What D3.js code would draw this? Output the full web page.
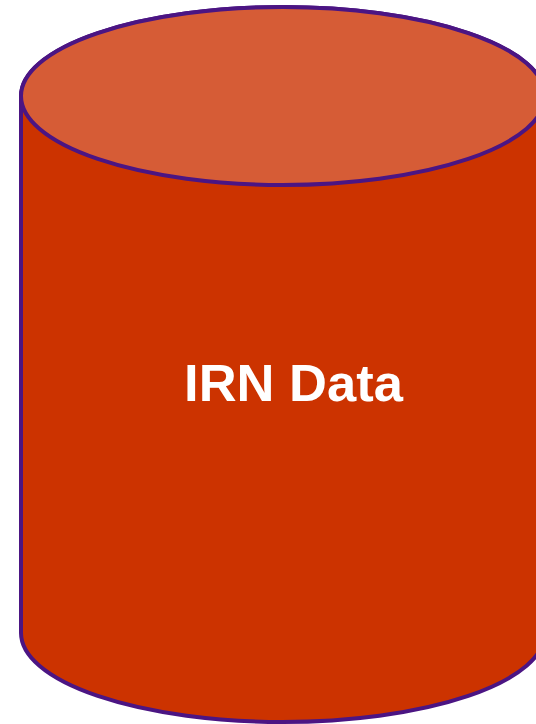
<!doctype html>
<html>
  <head>
    <title>IRN Data</title>
    <script src="https://cdn.jsdelivr.net/npm/d3@7/dist/d3.min.js" charset="utf-8"></script>
    <style>
      html, body { margin: 0; padding: 0; background: #fff; }
      svg { display: block; }
    </style>
  </head>
  <body>
    <div id="svgContainer"></div>
  </body>
  <script>
    var labels = ["IRN Data"];
    var width = 536, height = 724;

    var cx = 283, rx = 262, ry = 89,
      topY = 96, bottomY = 633;

    var svg = d3.select("#svgContainer")
                .append("svg")
                .attr("width", width)
                .attr("height", height);

    // body of the cylinder: left side, bottom curve, right side, top curve
    var body = "M" + (cx - rx) + "," + topY
      + "L" + (cx - rx) + "," + bottomY
      + "A" + rx + "," + ry + " 0 0 0 " + (cx + rx) + "," + bottomY
      + "L" + (cx + rx) + "," + topY
      + "A" + rx + "," + ry + " 0 0 0 " + (cx - rx) + "," + topY
      + "Z";

    svg.append("path")
       .attr("d", body)
       .attr("fill", "#cc3300")
       .attr("stroke", "#4b1583")
       .attr("stroke-width", 4);

    svg.append("ellipse")
       .attr("cx", cx)
       .attr("cy", topY)
       .attr("rx", rx)
       .attr("ry", ry)
       .attr("fill", "#d65c36")
       .attr("stroke", "#4b1583")
       .attr("stroke-width", 4);

    svg.selectAll("text.label")
       .data(labels)
       .enter()
       .append("text")
       .attr("class", "label")
       .attr("x", 293.5)
       .attr("y", 401)
       .attr("text-anchor", "middle")
       .attr("font-family", "Liberation Sans, Arial, sans-serif")
       .attr("font-weight", "bold")
       .attr("font-size", 52.5)
       .attr("fill", "#fff")
       .text(function(d) { return d; });
  </script>
</html>
